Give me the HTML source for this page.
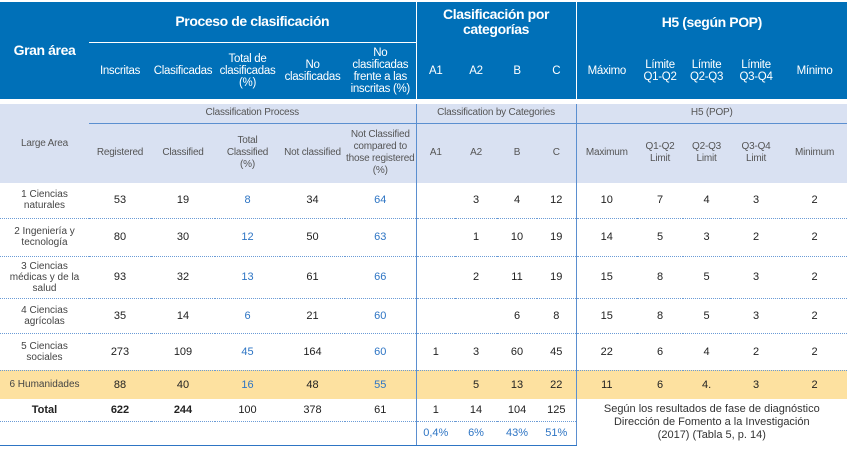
<!DOCTYPE html>
<html><head><meta charset="utf-8"><style>
body{margin:0;width:847px;height:449px;background:#fff;overflow:hidden;font-family:"Liberation Sans",sans-serif;}
table{position:absolute;left:0;top:2px;border-collapse:collapse;table-layout:fixed;width:847px;}
td{padding:0;text-align:center;vertical-align:middle;font-size:11px;color:#222;line-height:12px;}
.h td{background:#0070b8;color:#fff;font-size:11.5px;letter-spacing:-0.3px;}
.h .big{font-size:14px;font-weight:bold;letter-spacing:-0.4px;line-height:15px;}
.l td{background:#d9e1f2;color:#555;font-size:10px;letter-spacing:-0.2px;}
.vb{border-right:1.5px solid #5b8fd0;}
.hb .vb{border-right:1.5px solid #fff;}
.d td{border-bottom:1px dotted #6a9bd6;}
.blue{color:#2e75c4!important;}
.hi td{background:#fde1a0;}
.gap td{height:5px;background:#fff;}
.np{padding:0 6px!important;}
</style></head><body>
<table>
<colgroup><col style="width:89px"><col style="width:62px"><col style="width:64px"><col style="width:65px"><col style="width:65px"><col style="width:71px"><col style="width:39px"><col style="width:42px"><col style="width:40px"><col style="width:39px"><col style="width:61px"><col style="width:46px"><col style="width:47px"><col style="width:52px"><col style="width:65px"></colgroup>
<tr class="h hb" style="height:40px">
<td rowspan="2" class="big">Gran área</td>
<td colspan="5" class="big vb" style="border-bottom:1px solid #fff">Proceso de clasificación</td>
<td colspan="4" class="big vb" style="padding:0 14px">Clasificación por categorías</td>
<td colspan="5" class="big">H5 (según POP)</td></tr>
<tr class="h hb" style="height:57px">
<td>Inscritas</td><td>Clasificadas</td><td>Total de clasificadas (%)</td><td>No clasificadas</td><td class="vb">No clasificadas frente a las inscritas (%)</td>
<td>A1</td><td>A2</td><td>B</td><td class="vb">C</td>
<td>Máximo</td><td class="np">Límite Q1-Q2</td><td class="np">Límite Q2-Q3</td><td class="np">Límite Q3-Q4</td><td>Mínimo</td></tr>
<tr class="gap"><td colspan="15"></td></tr>
<tr class="l" style="height:19px">
<td rowspan="2">Large Area</td>
<td colspan="5" class="vb" style="border-bottom:1px solid #5b8fd0">Classification Process</td>
<td colspan="4" class="vb" style="border-bottom:1px solid #5b8fd0">Classification by Categories</td>
<td colspan="5" style="border-bottom:1px solid #5b8fd0">H5 (POP)</td></tr>
<tr class="l" style="height:60px">
<td>Registered</td><td>Classified</td><td class="np">Total Classified (%)</td><td>Not classified</td><td class="vb">Not Classified compared to those registered (%)</td>
<td>A1</td><td>A2</td><td>B</td><td class="vb">C</td>
<td>Maximum</td><td class="np">Q1-Q2 Limit</td><td class="np">Q2-Q3 Limit</td><td class="np">Q3-Q4 Limit</td><td>Minimum</td></tr>
<tbody id="body"></tbody>
</table>
<script>
const areas=["1 Ciencias naturales","2 Ingeniería y tecnología","3 Ciencias médicas y de la salud","4 Ciencias agrícolas","5 Ciencias sociales","6 Humanidades"];
const inscritas=[53,80,93,35,273,88];
const clasificadas=[19,30,32,14,109,40];
const totalPct=[8,12,13,6,45,16];
const noClasif=[34,50,61,21,164,48];
const noClasifPct=[64,63,66,60,60,55];
const a1=["","","","","1",""];
const a2=["3","1","2","","3","5"];
const b=["4","10","11","6","60","13"];
const c=["12","19","19","8","45","22"];
const maxv=["10","14","15","15","22","11"];
const q12=["7","5","8","8","6","6"];
const q23=["4","3","5","5","4","4."];
const q34=["3","2","3","3","2","3"];
const minv=["2","2","2","2","2","2"];
const heights=[35,38,42,35,37,29];
const tb=document.getElementById('body');
areas.forEach((a,i)=>{
 const tr=document.createElement('tr');
 
 
 tr.className=i==5?'hi':'d';
 tr.style.height=heights[i]+'px';
 const vals=[inscritas[i],clasificadas[i],totalPct[i],noClasif[i],noClasifPct[i],a1[i],a2[i],b[i],c[i],maxv[i],q12[i],q23[i],q34[i],minv[i]];
 let h='<td style="font-size:10px;color:#444;line-height:11px;padding:0 4px">'+a+'</td>';
 vals.forEach((v,j)=>{
  let cls=[];
  if(j==2||j==4)cls.push('blue');
  if(j==4||j==8)cls.push('vb');
  h+='<td class="'+cls.join(' ')+'">'+v+'</td>';
 });
 tr.innerHTML=h;tb.appendChild(tr);
});
const tr=document.createElement('tr');


tr.style.height='22px';
tr.innerHTML='<td style="font-weight:bold">Total</td><td style="font-weight:bold">622</td><td style="font-weight:bold">244</td><td>100</td><td>378</td><td class="vb">61</td><td style="border-bottom:1px dotted #6a9bd6">1</td><td style="border-bottom:1px dotted #6a9bd6">14</td><td style="border-bottom:1px dotted #6a9bd6">104</td><td class="vb" style="border-bottom:1px dotted #6a9bd6">125</td><td colspan="5" rowspan="2" style="font-size:11px;line-height:13px;color:#333;padding:0 22px">Según los resultados de fase de diagnóstico Dirección de Fomento a la Investigación (2017) (Tabla 5, p. 14)</td>';
tb.appendChild(tr);
const tr2=document.createElement('tr');


tr2.style.height='24px';
tr2.innerHTML='<td style="border-top:1px dotted #6a9bd6;border-bottom:1.5px solid #2e75c4"></td><td colspan="4" style="border-top:1px dotted #6a9bd6;border-bottom:1.5px solid #2e75c4"></td><td class="vb" style="border-bottom:1.5px solid #2e75c4;border-top:1px dotted #6a9bd6"></td><td class="blue" style="border-bottom:1.5px solid #2e75c4">0,4%</td><td class="blue" style="border-bottom:1.5px solid #2e75c4">6%</td><td class="blue" style="border-bottom:1.5px solid #2e75c4">43%</td><td class="blue vb" style="border-bottom:1.5px solid #2e75c4">51%</td>';
tb.appendChild(tr2);
</script>
</body></html>
